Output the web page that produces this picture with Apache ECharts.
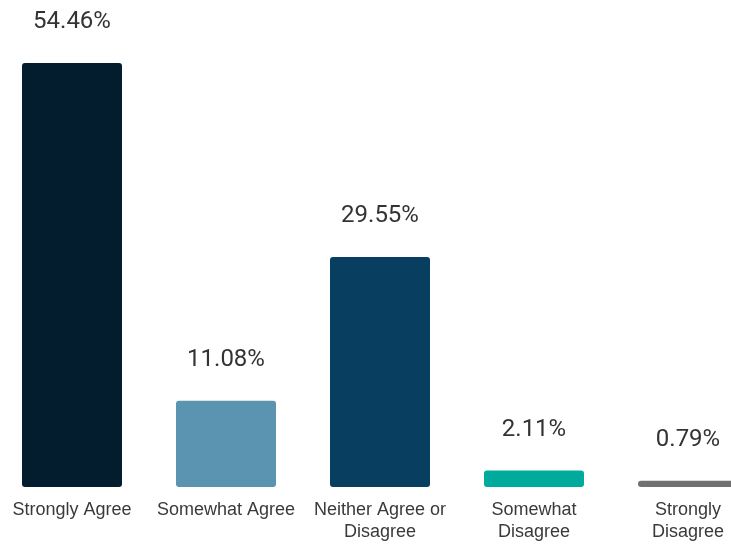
<!DOCTYPE html>
<html>
<head>
<meta charset="utf-8">
<script src="https://cdn.jsdelivr.net/npm/echarts@6/dist/echarts.min.js"></script>
<style>
  html, body { margin: 0; padding: 0; background: #fff; }
  #chart-container { width: 731px; height: 544px; }
</style>
</head>
<body>
<div id="chart-container"></div>
<script>
var categories = ["Strongly Agree", "Somewhat Agree", "Neither Agree or\nDisagree", "Somewhat\nDisagree", "Strongly\nDisagree"];
var values = [54.46, 11.08, 29.55, 2.11, 0.79];
var colors = ["#031d2e", "#5b94b0", "#083f60", "#00ab9c", "#707070"];

var dom = document.getElementById("chart-container");
var myChart = echarts.init(dom);
var option = {
  animation: false,
  grid: { left: -5, width: 770, top: 63, bottom: 57, containLabel: false, outerBoundsMode: "none" },
  xAxis: {
    type: "category",
    data: categories,
    axisLine: { show: false },
    axisTick: { show: false },
    axisLabel: {
      interval: 0,
      margin: 12,
      fontFamily: "Liberation Sans",
      fontSize: 18,
      lineHeight: 22,
      color: "#3a3a3a",
      hideOverlap: false
    }
  },
  yAxis: {
    type: "value",
    min: 0,
    max: 54.46,
    show: false,
    splitLine: { show: false }
  },
  series: [
    {
      type: "bar",
      barWidth: 100,
      data: values.map(function (v, i) {
        return { value: v, itemStyle: { color: colors[i] } };
      }),
      itemStyle: { borderRadius: 3 },
      label: {
        show: true,
        position: "top",
        distance: 29,
        fontFamily: "Roboto",
        fontSize: 24,
        color: "#333",
        formatter: function (p) { return p.value.toFixed(2) + "%"; }
      }
    }
  ]
};
myChart.setOption(option, true);
</script>
</body>
</html>
